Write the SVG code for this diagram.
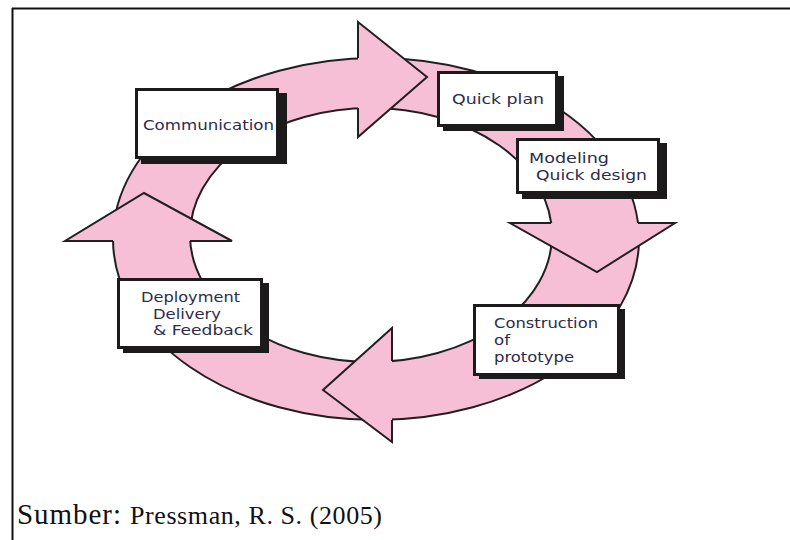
<svg xmlns="http://www.w3.org/2000/svg" width="790" height="540" viewBox="0 0 790 540">
  <style>
    .band { fill: #f6bfd6; stroke: none; }
    .edge { fill: none; stroke: #231f20; stroke-width: 2; stroke-linejoin: miter; }
    .head { fill: #f6bfd6; stroke: none; }
    .shadow { fill: #1c1a1b; }
    .box { fill: #ffffff; stroke: #1c1a1b; stroke-width: 3; }
    .lbl { font-family: "DejaVu Sans", "Liberation Sans", sans-serif; font-size: 14px; fill: #2d2c4c; }
    .cite { font-family: "Liberation Serif", "DejaVu Serif", serif; fill: #111111; }
  </style>

  <rect width="790" height="540" fill="#ffffff"/>

  <!-- frame lines -->
  <g id="frame">
    <line x1="12" y1="8.5" x2="790" y2="8.5" stroke="#111" stroke-width="2"/>
    <line x1="12.5" y1="8" x2="12.5" y2="540" stroke="#111" stroke-width="2"/>
  </g>

  <!-- cycle ring with four arrowheads -->
  <g id="connectors">
    <path class="band" fill-rule="evenodd"
          d="M113,239 A263,181 0 1,0 639,239 A263,181 0 1,0 113,239 Z
             M190,235 A181,127 0 1,0 552,235 A181,127 0 1,0 190,235 Z"/>
    <ellipse class="edge" cx="376" cy="239" rx="263" ry="181"/>
    <ellipse class="edge" cx="371" cy="235" rx="181" ry="127"/>

    <!-- top: pointing right -->
    <polygon class="head" points="358,22 427,77 358,137"/>
    <polyline class="edge" points="358,58 358,22 427,77 358,137 358,108"/>

    <!-- right: pointing down -->
    <polygon class="head" points="510,223 675,223 597,272"/>
    <polyline class="edge" points="551,223 510,223 597,272 675,223 638,223"/>

    <!-- bottom: pointing left -->
    <polygon class="head" points="392,328 323,390 392,442"/>
    <polyline class="edge" points="392,361 392,328 323,390 392,442 392,420"/>

    <!-- left: pointing up -->
    <polygon class="head" points="65,241 144,193 232,241"/>
    <polyline class="edge" points="113,241 65,241 144,193 232,241 190,241"/>
  </g>

  <g id="communication">
    <rect class="shadow" x="141" y="93" width="146" height="71"/>
    <rect class="box" x="136.5" y="89.5" width="141" height="68"/>
    <text class="lbl" x="143" y="130" textLength="131" lengthAdjust="spacingAndGlyphs">Communication</text>
  </g>

  <g id="quick-plan">
    <rect class="shadow" x="443" y="76" width="121" height="55"/>
    <rect class="box" x="438.5" y="72.5" width="118" height="53"/>
    <text class="lbl" x="452" y="104" textLength="92" lengthAdjust="spacingAndGlyphs">Quick plan</text>
  </g>

  <g id="modeling">
    <rect class="shadow" x="522" y="143" width="145" height="56"/>
    <rect class="box" x="517.5" y="139.5" width="141" height="53"/>
    <text class="lbl" x="529" y="163" textLength="80" lengthAdjust="spacingAndGlyphs">Modeling</text>
    <text class="lbl" x="536" y="180" textLength="111" lengthAdjust="spacingAndGlyphs">Quick design</text>
  </g>

  <g id="construction">
    <rect class="shadow" x="479" y="309" width="146" height="70"/>
    <rect class="box" x="474.5" y="305.5" width="144" height="69"/>
    <text class="lbl" x="494" y="328" textLength="104" lengthAdjust="spacingAndGlyphs">Construction</text>
    <text class="lbl" x="494" y="345" textLength="16" lengthAdjust="spacingAndGlyphs">of</text>
    <text class="lbl" x="494" y="361.5" textLength="80" lengthAdjust="spacingAndGlyphs">prototype</text>
  </g>

  <g id="deployment">
    <rect class="shadow" x="123" y="283" width="146" height="70"/>
    <rect class="box" x="118.5" y="279.5" width="143" height="68"/>
    <text class="lbl" x="141" y="302" textLength="99" lengthAdjust="spacingAndGlyphs">Deployment</text>
    <text class="lbl" x="153" y="318.5" textLength="68" lengthAdjust="spacingAndGlyphs">Delivery</text>
    <text class="lbl" x="153" y="335" textLength="100" lengthAdjust="spacingAndGlyphs">&amp; Feedback</text>
  </g>

  <g id="source">
    <text class="cite" x="17" y="524" font-size="29" textLength="104">Sumber:</text>
    <text class="cite" x="130" y="524" font-size="26" textLength="252">Pressman, R. S. (2005)</text>
  </g>
</svg>
